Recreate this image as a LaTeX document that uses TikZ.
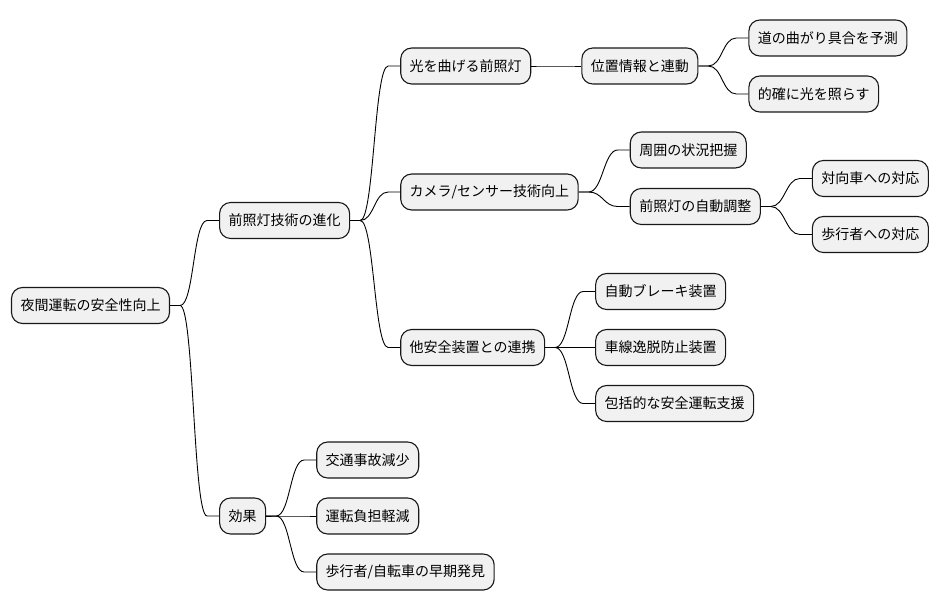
\documentclass[tikz,border=0pt]{standalone}
\usepackage{fontspec}
\usepackage{tikz}
\usetikzlibrary{positioning}
\usetikzlibrary{calc}
\newfontfamily\jpfont{Noto Sans CJK JP}
\definecolor{boxfill}{HTML}{F1F1F1}
\definecolor{boxline}{HTML}{181818}

\begin{document}
\begin{tikzpicture}[
    topic/.style={draw=boxline, fill=boxfill, line width=1.1pt, rounded corners=11pt,
      inner xsep=9pt, minimum height=36pt, font=\jpfont\fontsize{14}{16}\selectfont},
    branch/.style={line width=0.9pt, to path={-- ($(\tikztostart)+(10pt,0)$)
      .. controls ($(\tikztostart)+(24pt,0)$) and ($(\tikztotarget)+(-26pt,0)$)
      .. ($(\tikztotarget)+(-12pt,0)$) -- (\tikztotarget)}},
    node distance=50pt
  ]
  \useasboundingbox (0,0) rectangle (941pt,-612pt);

  \node[topic] (root) at (90.5pt,-305.5pt) {夜間運転の安全性向上};

  \node[topic, right=49pt of root, yshift=85pt] (tech) {前照灯技術の進化};
  \node[topic, right=49pt of root, yshift=-210.5pt] (effect) {効果};

  \node[topic, right=of tech, yshift=154.5pt] (bend) {光を曲げる前照灯};
  \node[topic, right=of bend] (gps) {位置情報と連動};
  \node[topic, right=of gps, yshift=28pt] (curve) {道の曲がり具合を予測};
  \node[topic, right=of gps, yshift=-28pt] (aim) {的確に光を照らす};

  \node[topic, right=of tech, yshift=28.5pt] (sensor) {カメラ/センサー技術向上};
  \node[topic, right=51pt of sensor, yshift=42pt] (around) {周囲の状況把握};
  \node[topic, right=51pt of sensor, yshift=-14.5pt] (auto) {前照灯の自動調整};
  \node[topic, right=51pt of auto, yshift=28pt] (oncoming) {対向車への対応};
  \node[topic, right=51pt of auto, yshift=-28pt] (walker) {歩行者への対応};

  \node[topic, right=of tech, yshift=-127pt] (link) {他安全装置との連携};
  \node[topic, right=of link, yshift=56pt] (brake) {自動ブレーキ装置};
  \node[topic, right=of link] (lane) {車線逸脱防止装置};
  \node[topic, right=of link, yshift=-56pt] (assist) {包括的な安全運転支援};

  \node[topic, right=of effect, yshift=56pt] (crash) {交通事故減少};
  \node[topic, right=of effect] (load) {運転負担軽減};
  \node[topic, right=of effect, yshift=-56pt] (early) {歩行者/自転車の早期発見};

  \draw[branch] (root.east) to (tech.west);
  \draw[branch] (root.east) to (effect.west);
  \draw[branch] (tech.east) to (bend.west);
  \draw[branch] (tech.east) to (sensor.west);
  \draw[branch] (tech.east) to (link.west);
  \draw[branch] (bend.east) to (gps.west);
  \draw[branch] (gps.east) to (curve.west);
  \draw[branch] (gps.east) to (aim.west);
  \draw[branch] (sensor.east) to (around.west);
  \draw[branch] (sensor.east) to (auto.west);
  \draw[branch] (auto.east) to (oncoming.west);
  \draw[branch] (auto.east) to (walker.west);
  \draw[branch] (link.east) to (brake.west);
  \draw[branch] (link.east) to (lane.west);
  \draw[branch] (link.east) to (assist.west);
  \draw[branch] (effect.east) to (crash.west);
  \draw[branch] (effect.east) to (load.west);
  \draw[branch] (effect.east) to (early.west);
\end{tikzpicture}
\end{document}
